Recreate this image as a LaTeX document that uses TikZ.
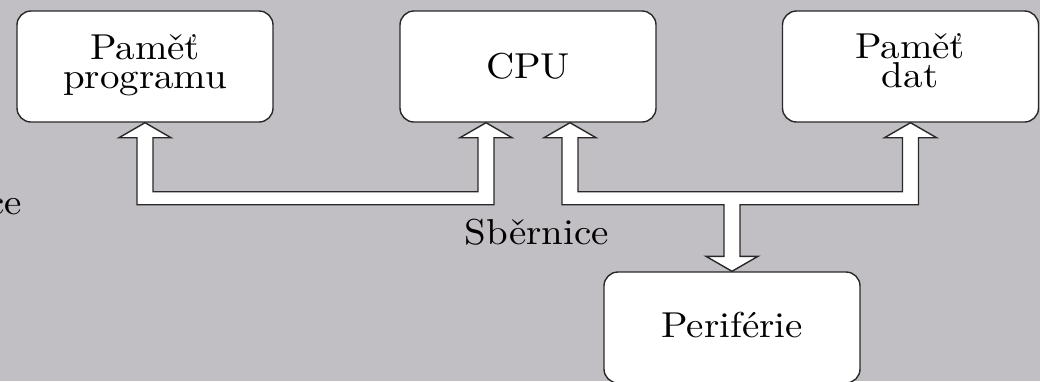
\documentclass[tikz,border=0pt]{standalone}
\usepackage{graphicx}
\usetikzlibrary{calc}
\definecolor{bggray}{RGB}{193,191,196}
\definecolor{edge}{RGB}{40,40,40}
% text set at 10pt and enlarged, so the design size stays that of 10pt
\newcommand\bigtxt[1]{\scalebox{3.9}[3.6]{\fontsize{10}{7.9}\selectfont
  \vbox{\halign{\hfil##\hfil\cr#1\cr}}}}
\tikzset{
  unit/.style={draw=edge, line width=1.4pt, fill=white, rounded corners=14pt,
    minimum width=256pt, minimum height=111pt, inner sep=0pt},
  utext/.style={inner sep=0pt, anchor=base},
  bus/.style={draw=edge, line width=1.4pt, fill=white, line join=miter}
}
\begin{document}
\begin{tikzpicture}[x=1pt, y=-1pt]
  \useasboundingbox (0,0) rectangle (1040,381);
  \clip (0,0) rectangle (1040,381);
  \fill[bggray] (0,0) rectangle (1040,381);

  % functional units
  \node[unit] (prog) at (145,66.5) {};
  \node[unit] (cpu)  at (528,66.5) {};
  \node[unit] (data) at (910.5,66.5) {};
  \node[unit] (peri) at (732,327.5) {};

  % their captions
  \node[utext] (progtxt) at (145,88)  {\bigtxt{Paměť\cr programu}};
  \node[utext] (cputxt)  at (528,78)  {\bigtxt{CPU}};
  \node[utext] (datatxt) at (910,87)  {\bigtxt{Paměť\cr dat}};
  \node[utext] (peritxt) at (732,337) {\bigtxt{Periférie}};

  % bus labels
  \node[inner sep=0pt, anchor=base east] (lblcut) at (22,214) {\bigtxt{ce}};
  \node[utext] (lblbus) at (537,244) {\bigtxt{Sběrnice}};

  % entry points of the buses on the CPU
  \coordinate (cpuA) at ([xshift=-42pt]cpu.south);
  \coordinate (cpuB) at ([xshift=42pt]cpu.south);

  % bus: program memory <-> CPU
  \path[bus] let \p1=(prog.south), \p2=(cpuA) in
    (\x1,\y1) -- (\x1+26pt,\y1-15pt) -- (\x1+8pt,\y1-15pt) -- (\x1+8pt,\y1-69pt)
    -- (\x2-8pt,\y1-69pt) -- (\x2-8pt,\y2-15pt) -- (\x2-26pt,\y2-15pt) -- (\x2,\y2)
    -- (\x2+26pt,\y2-15pt) -- (\x2+8pt,\y2-15pt) -- (\x2+8pt,\y1-82pt)
    -- (\x1-8pt,\y1-82pt) -- (\x1-8pt,\y1-15pt) -- (\x1-26pt,\y1-15pt) -- cycle;

  % bus: CPU <-> data memory, branching to the peripherals
  \path[bus] let \p1=(cpuB), \p2=(data.south), \p3=(peri.north) in
    (\x1,\y1) -- (\x1+26pt,\y1-15pt) -- (\x1+8pt,\y1-15pt) -- (\x1+8pt,\y1-69pt)
    -- (\x2-8pt,\y1-69pt) -- (\x2-8pt,\y2-15pt) -- (\x2-26pt,\y2-15pt) -- (\x2,\y2)
    -- (\x2+26pt,\y2-15pt) -- (\x2+8pt,\y2-15pt) -- (\x2+8pt,\y1-82pt)
    -- (\x3+8pt,\y1-82pt) -- (\x3+8pt,\y3+15pt) -- (\x3+26pt,\y3+15pt) -- (\x3,\y3)
    -- (\x3-26pt,\y3+15pt) -- (\x3-8pt,\y3+15pt) -- (\x3-8pt,\y1-82pt)
    -- (\x1-8pt,\y1-82pt) -- (\x1-8pt,\y1-15pt) -- (\x1-26pt,\y1-15pt) -- cycle;
\end{tikzpicture}
\end{document}
